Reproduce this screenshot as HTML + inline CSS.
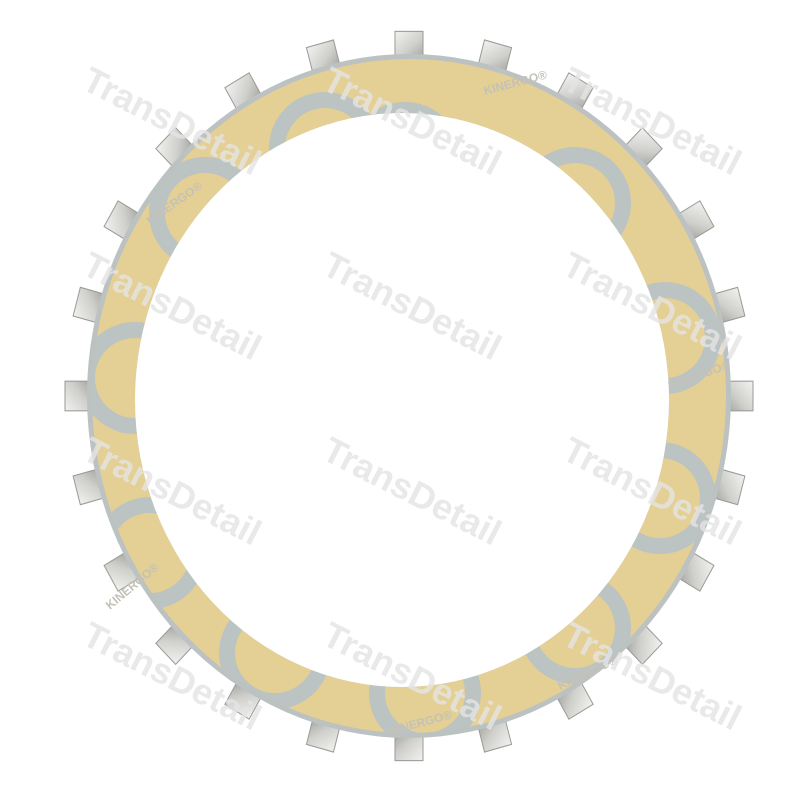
<!DOCTYPE html>
<html><head><meta charset="utf-8"><style>
html,body{margin:0;padding:0;background:#fff;}
svg{display:block;}
</style></head><body>
<svg width="800" height="800" viewBox="0 0 800 800" xmlns="http://www.w3.org/2000/svg">
<defs>
<linearGradient id="tab" x1="0" y1="0" x2="1" y2="1">
<stop offset="0" stop-color="#f2f2f0"/><stop offset="0.6" stop-color="#cfcfcc"/><stop offset="1" stop-color="#a8a8a4"/>
</linearGradient>
<mask id="ringmask">
<ellipse cx="409" cy="396" rx="317" ry="337" fill="#fff"/>
<ellipse cx="402" cy="400" rx="267" ry="287" fill="#000"/>
</mask>
</defs>
<g fill="url(#tab)" stroke="#9a9a96" stroke-width="1">
<g transform="translate(409,396) scale(1,1.06)">
<rect x="-14" y="-344" width="28" height="24" transform="rotate(0)"/>
<rect x="-14" y="-344" width="28" height="24" transform="rotate(15)"/>
<rect x="-14" y="-344" width="28" height="24" transform="rotate(30)"/>
<rect x="-14" y="-344" width="28" height="24" transform="rotate(45)"/>
<rect x="-14" y="-344" width="28" height="24" transform="rotate(60)"/>
<rect x="-14" y="-344" width="28" height="24" transform="rotate(75)"/>
<rect x="-14" y="-344" width="28" height="24" transform="rotate(90)"/>
<rect x="-14" y="-344" width="28" height="24" transform="rotate(105)"/>
<rect x="-14" y="-344" width="28" height="24" transform="rotate(120)"/>
<rect x="-14" y="-344" width="28" height="24" transform="rotate(135)"/>
<rect x="-14" y="-344" width="28" height="24" transform="rotate(150)"/>
<rect x="-14" y="-344" width="28" height="24" transform="rotate(165)"/>
<rect x="-14" y="-344" width="28" height="24" transform="rotate(180)"/>
<rect x="-14" y="-344" width="28" height="24" transform="rotate(195)"/>
<rect x="-14" y="-344" width="28" height="24" transform="rotate(210)"/>
<rect x="-14" y="-344" width="28" height="24" transform="rotate(225)"/>
<rect x="-14" y="-344" width="28" height="24" transform="rotate(240)"/>
<rect x="-14" y="-344" width="28" height="24" transform="rotate(255)"/>
<rect x="-14" y="-344" width="28" height="24" transform="rotate(270)"/>
<rect x="-14" y="-344" width="28" height="24" transform="rotate(285)"/>
<rect x="-14" y="-344" width="28" height="24" transform="rotate(300)"/>
<rect x="-14" y="-344" width="28" height="24" transform="rotate(315)"/>
<rect x="-14" y="-344" width="28" height="24" transform="rotate(330)"/>
<rect x="-14" y="-344" width="28" height="24" transform="rotate(345)"/>
</g>
</g>
<ellipse cx="409" cy="396" rx="322" ry="342" fill="#bcc2c2"/>
<g mask="url(#ringmask)">
<rect x="0" y="0" width="800" height="800" fill="#e4cf94"/>
<g fill="none" stroke="#bcc3c3" stroke-width="16">
<g transform="translate(405,398)">
<circle cx="0" cy="-240" r="48"/>
<circle cx="170" cy="-195" r="48"/>
<circle cx="260" cy="-60" r="48"/>
<circle cx="255" cy="100" r="48"/>
<circle cx="170" cy="230" r="48"/>
<circle cx="20" cy="295" r="48"/>
<circle cx="-130" cy="255" r="48"/>
<circle cx="-255" cy="155" r="48"/>
<circle cx="-270" cy="-20" r="48"/>
<circle cx="-200" cy="-185" r="48"/>
<circle cx="-80" cy="-250" r="48"/>
</g>
</g>
</g>
<ellipse cx="402" cy="400" rx="267" ry="287" fill="#fff"/>
<g font-family="Liberation Sans, sans-serif" font-weight="bold" font-size="12" fill="#c4c2b8">
<text x="150" y="225" transform="rotate(-35 150 225)">KINERGO®</text>
<text x="485" y="95" transform="rotate(-15 485 95)">KINERGO®</text>
<text x="670" y="390" transform="rotate(-20 670 390)">KINERGO®</text>
<text x="110" y="610" transform="rotate(-40 110 610)">KINERGO®</text>
<text x="390" y="735" transform="rotate(-15 390 735)">KINERGO®</text>
<text x="560" y="690" transform="rotate(-25 560 690)">KINERGO®</text>
</g>
<g font-family="Liberation Sans, sans-serif" font-weight="bold" font-size="36" fill="#e4e4e4" fill-opacity="0.8">
<text x="80" y="88" transform="rotate(27 80 88)">TransDetail</text>
<text x="320" y="88" transform="rotate(27 320 88)">TransDetail</text>
<text x="560" y="88" transform="rotate(27 560 88)">TransDetail</text>
<text x="80" y="273" transform="rotate(27 80 273)">TransDetail</text>
<text x="320" y="273" transform="rotate(27 320 273)">TransDetail</text>
<text x="560" y="273" transform="rotate(27 560 273)">TransDetail</text>
<text x="80" y="458" transform="rotate(27 80 458)">TransDetail</text>
<text x="320" y="458" transform="rotate(27 320 458)">TransDetail</text>
<text x="560" y="458" transform="rotate(27 560 458)">TransDetail</text>
<text x="80" y="643" transform="rotate(27 80 643)">TransDetail</text>
<text x="320" y="643" transform="rotate(27 320 643)">TransDetail</text>
<text x="560" y="643" transform="rotate(27 560 643)">TransDetail</text>
</g>
</svg>
</body></html>
